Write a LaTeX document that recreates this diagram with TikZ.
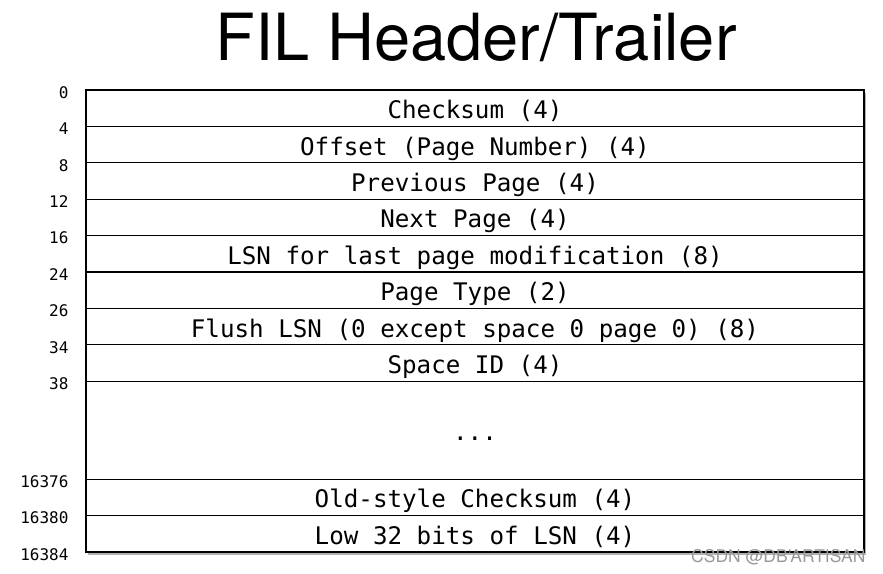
\documentclass[tikz,border=0pt]{standalone}
\usepackage{fontspec}
\setmainfont{TeX Gyre Heros}
\newfontfamily\monofont{DejaVu Sans Mono}
\usetikzlibrary{positioning,backgrounds}

\tikzset{
  field/.style={draw,fill=white,line width=1.2pt,minimum width=778pt,minimum height=36.4pt,
    inner sep=0pt,outer sep=0pt,text height=21pt,text depth=0pt,
    font=\monofont\fontsize{24.2}{24.2}\selectfont},
  offset/.style={anchor=east,font=\monofont\fontsize{16}{16}\selectfont},
}

\begin{document}
\begin{tikzpicture}[x=1pt,y=-1pt]
  \useasboundingbox (0,0) rectangle (883,573);
  \node[anchor=base,font=\fontsize{65}{65}\selectfont] (title) at (476,60) {FIL Header/Trailer};

  \node[field,anchor=north] (chk) at (475,90) {Checksum (4)};
  \node[field,below=0pt of chk] (off) {Offset (Page Number) (4)};
  \node[field,below=0pt of off] (prev) {Previous Page (4)};
  \node[field,below=0pt of prev] (next) {Next Page (4)};
  \node[field,below=0pt of next] (lsn) {LSN for last page modification (8)};
  \node[field,below=0pt of lsn] (ptype) {Page Type (2)};
  \node[field,below=0pt of ptype] (flush) {Flush LSN (0 except space 0 page 0) (8)};
  \node[field,below=0pt of flush] (spid) {Space ID (4)};
  \node[field,below=0pt of spid,minimum height=98pt] (gap) {...};
  \node[field,below=0pt of gap] (oldchk) {Old-style Checksum (4)};
  \node[field,below=0pt of oldchk] (lowlsn) {Low 32 bits of LSN (4)};
  \draw[line width=2pt] (chk.north west) rectangle (lowlsn.south east);
  \begin{pgfonlayer}{background}
    \fill[gray!60] ([shift={(2,3)}]chk.north west) rectangle ([shift={(2,3)}]lowlsn.south east);
  \end{pgfonlayer}

  % byte offsets
  \foreach \row/\val in {chk/0,off/4,prev/8,next/12,lsn/16,ptype/24,flush/26,spid/34,gap/38,oldchk/16376,lowlsn/16380}
    \node[offset] (o\val) at ([xshift=-14pt,yshift=-2.5pt]\row.north west) {\val};
  \node[offset] (oend) at ([xshift=-14pt,yshift=-2.5pt]lowlsn.south west) {16384};

  \node[anchor=base east,text=gray!80,font=\fontsize{17.5}{17.5}\selectfont] (mark) at (869,562) {CSDN @DB'ARTISAN};
\end{tikzpicture}
\end{document}
